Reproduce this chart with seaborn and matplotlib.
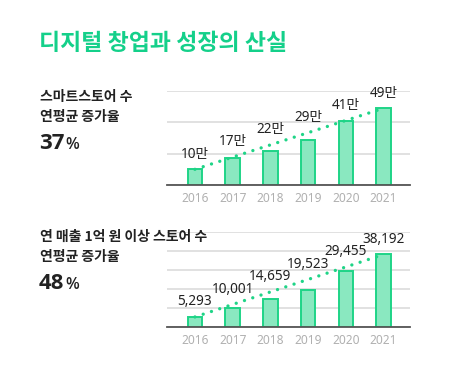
import matplotlib
matplotlib.use("Agg")
import matplotlib.pyplot as plt
import seaborn as sns
import pandas as pd

sns.set_theme(style="white")
plt.rcParams['font.family'] = ['Noto Sans CJK KR', 'DejaVu Sans']
NUMFONT = ['Noto Sans', 'Noto Sans CJK KR', 'DejaVu Sans']
BOLDNUM = ['Open Sans', 'Noto Sans CJK KR', 'DejaVu Sans']

years = ["2016", "2017", "2018", "2019", "2020", "2021"]
stores = [10, 17, 22, 29, 41, 49]            # 만
stores_labels = ["10만", "17만", "22만", "29만", "41만", "49만"]
big_stores = [5293, 10001, 14659, 19523, 29455, 38192]
big_labels = ["5,293", "10,001", "14,659", "19,523", "29,455", "38,192"]

title = "디지털 창업과 성장의 산실"
top_heading = ["스마트스토어 수", "연평균 증가율"]
top_rate = "37"
bot_heading = ["연 매출 1억 원 이상 스토어 수", "연평균 증가율"]
bot_rate = "48"

GREEN = "#1fd487"
FILL = "#8ae8c0"
W, H = 451, 371

fig = plt.figure(figsize=(W / 100, H / 100), dpi=100)

def fx(px):
    return px / W

def fy(py):
    return 1 - py / H

def draw(ax, values, labels, ymax, yticks):
    df = pd.DataFrame({"year": years, "value": values})
    sns.barplot(data=df, x="year", y="value", ax=ax, color=FILL, width=0.38,
                edgecolor=GREEN, linewidth=1.4, saturation=1, zorder=3)
    for p in ax.patches:
        p.set_facecolor(FILL)
        p.set_edgecolor(GREEN)
    n = len(values)
    v0, v1 = values[0], values[-1]
    ax.plot([0, n - 1], [v0, v1], color=GREEN, lw=2.4,
            linestyle=(0, (0.01, 2.6)), dash_capstyle="round", zorder=4)
    for i, lab in enumerate(labels):
        t = v0 + (v1 - v0) * i / (n - 1)
        ax.annotate(lab, (i, t), xytext=(0, 5.5), textcoords="offset points",
                    ha="center", va="bottom", fontsize=9.8, color="#222222",
                    family=NUMFONT, zorder=5)
    ax.set_xlim(-0.74, n - 0.3)
    ax.set_ylim(0, ymax)
    ax.set_yticks(yticks)
    ax.set_yticklabels([])
    ax.yaxis.grid(True, color="#dcdcdc", lw=1.2)
    ax.set_axisbelow(True)
    for s in ["left", "right", "top"]:
        ax.spines[s].set_visible(False)
    ax.spines["bottom"].set_color("#555555")
    ax.spines["bottom"].set_linewidth(1.3)
    ax.spines["bottom"].set_zorder(6)
    ax.tick_params(axis="both", length=0)
    ax.tick_params(axis="x", colors="#b0b0b0", labelsize=8.6, pad=5)
    for tl in ax.get_xticklabels():
        tl.set_family(NUMFONT)
    ax.set_xlabel("")
    ax.set_ylabel("")

ax1 = fig.add_axes([fx(167), fy(185), fx(410) - fx(167), (185 - 91) / H])
draw(ax1, stores, stores_labels, 60, [0, 20, 40, 60])

ax2 = fig.add_axes([fx(167), fy(327), fx(410) - fx(167), (327 - 232) / H])
draw(ax2, big_stores, big_labels, 50000, [0, 10000, 20000, 30000, 40000, 50000])

fig.text(fx(39), fy(43), title, fontsize=16.5, fontweight="bold", color="#14d08a",
         va="center", ha="left")

def heading(y0, lines, rate):
    fig.text(fx(40), fy(y0), lines[0], fontsize=10, fontweight="bold",
             color="#222222", va="center", ha="left", zorder=10)
    fig.text(fx(40), fy(y0 + 20), lines[1], fontsize=10, fontweight="bold",
             color="#222222", va="center", ha="left")
    t = fig.text(fx(39), fy(y0 + 52), rate, fontsize=16, fontweight="bold",
                 color="#222222", va="baseline", ha="left", family=BOLDNUM)
    fig.canvas.draw()
    bb = t.get_window_extent()
    fig.text(bb.x1 / W + 0.003, fy(y0 + 52), "%", fontsize=11.5, fontweight="semibold",
             color="#222222", va="baseline", ha="left", family=BOLDNUM)

heading(97, top_heading, top_rate)
heading(237, bot_heading, bot_rate)

fig.savefig("out.png", dpi=100, facecolor="white")
